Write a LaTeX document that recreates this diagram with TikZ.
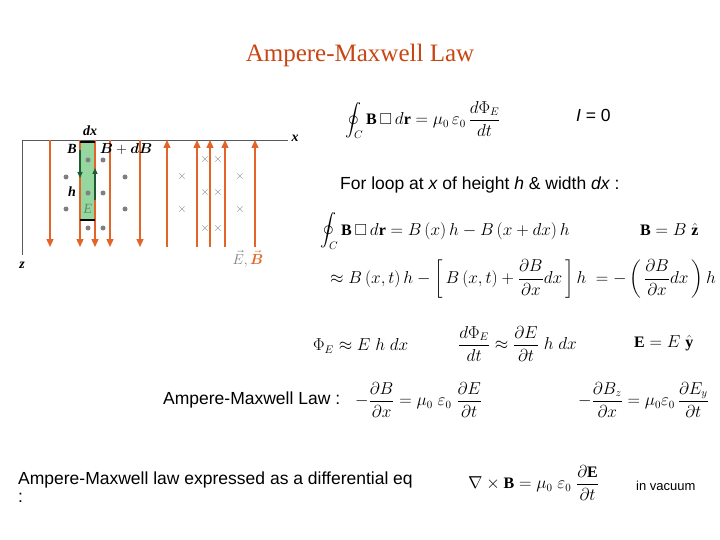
\documentclass[tikz,border=0pt]{standalone}
\usepackage{fontspec}
\usepackage{amsmath,amssymb}
\setmainfont{Liberation Serif}
\newfontfamily\arial{Liberation Sans}
\usetikzlibrary{arrows.meta}
\definecolor{org}{RGB}{226,100,40}
\definecolor{ttl}{RGB}{200,70,20}
\definecolor{grn}{RGB}{150,215,160}
\definecolor{dgrn}{RGB}{30,90,50}
\newcommand\fs[1]{\fontsize{#1}{#1}\selectfont}
\tikzset{fld/.style={org,line width=1.3pt,-{Triangle[length=8pt,width=7pt]}},
 dt/.style={circle,fill=gray,inner sep=0pt,minimum size=5pt},
 cr/.style={text=gray,inner sep=0pt,font=\fs{13}},
 eq/.style={anchor=west,inner sep=0pt,font=\fs{16}},
 lb/.style={font=\fs{14}},
 sf/.style={anchor=west,inner sep=0pt,font=\arial\fs{17.5}}}
\begin{document}
\begin{tikzpicture}[x=1pt,y=-1pt]
\useasboundingbox[fill=white] (0,0) rectangle (720,540);
\node (title) at (360,55) {\color{ttl}\fs{25}Ampere-Maxwell Law};
% diagram
\fill[grn] (80,142) rectangle (95,220);
\draw[gray!70!black,line width=0.8pt] (22,140) coordinate (o) -- (288,140) coordinate (xe);
\draw[gray!70!black,line width=0.8pt] (o) -- (22,255) coordinate (ze);
\node[lb] (xl) at (295,138) {\bfseries\itshape x};
\node[lb] (zl) at (22,265) {\bfseries\itshape z};
\foreach \i/\x in {a/50,b/80,c/95,d/110,e/140}{
 \coordinate (dt\i) at (\x,140); \coordinate (db\i) at (\x,247);
 \draw[fld] (dt\i) -- (db\i);}
\foreach \i/\x in {a/167,b/197,c/210,d/225,e/255}{
 \coordinate (ut\i) at (\x,140); \coordinate (ub\i) at (\x,247);
 \draw[fld] (ub\i) -- (ut\i);}
\draw[black,line width=1.8pt] (80,142) -- (95,142);
\draw[black,line width=1.8pt] (80,220) -- (95,220);
\draw[dgrn,line width=1.2pt,-{Triangle[length=6pt,width=5pt]}] (80,150) -- (80,178);
\draw[dgrn,line width=1.2pt,-{Triangle[length=6pt,width=5pt]}] (95,200) -- (95,168);
\foreach \p [count=\k] in {(88,160),(103,160),(66,177),(125,177),(88,193),(103,193),(66,209),(125,209),(88,228),(103,228)}
 \node[dt] (dot\k) at \p {};
\foreach \p [count=\k] in {(205,160),(218,160),(182,177),(240,177),(205,193),(218,193),(182,209),(240,209),(205,228),(218,228)}
 \node[cr] (x\k) at \p {$\times$};
\node[lb] (ldx) at (90,131) {\bfseries\itshape dx};
\node[lb] (lB) at (72,149) {\bfseries\itshape B};
\node[lb] (lBdB) at (126,149) {$\boldsymbol{B}+\boldsymbol{dB}$};
\node[lb] (lh) at (72,192) {\bfseries\itshape h};
\node[lb] (lE) at (88,209) {\color{dgrn!70}\itshape E};
\node[lb,inner sep=0pt] (lEB) at (248,259) {$\color{gray}\vec{E},\color{org}\vec{\boldsymbol{B}}$};
% equations
\node[eq] (e1) at (345,120) {$\displaystyle\oint_C \mathbf{B}\,\square\, d\mathbf{r}=\mu_0\,\varepsilon_0\,\frac{d\Phi_E}{dt}$};
\node[sf] (i0) at (576,115) {\itshape I\upshape\ = 0};
\node[sf] (loop) at (340,185) {For loop at \itshape x\upshape\ of height \itshape h\upshape\ \& width \itshape dx\upshape\ :};
\node[eq] (e2) at (320,231) {$\displaystyle\oint_C \mathbf{B}\,\square\, d\mathbf{r}=B\left(x\right)h-B\left(x+dx\right)h$};
\node[eq] (e3) at (640,230) {$\mathbf{B}=B\;\hat{\mathbf{z}}$};
\node[eq] (e4) at (330,279) {$\displaystyle\approx B\left(x,t\right)h-\left[\,B\left(x,t\right)+\frac{\partial B}{\partial x}dx\,\right]h\;=-\left(\,\frac{\partial B}{\partial x}dx\,\right)h$};
\node[eq] (e5) at (313,346) {$\Phi_E\approx E\;h\;dx$};
\node[eq] (e6) at (458,344) {$\displaystyle\frac{d\Phi_E}{dt}\approx\frac{\partial E}{\partial t}\;h\;dx$};
\node[eq] (e7) at (634,343) {$\mathbf{E}=E\;\hat{\mathbf{y}}$};
\node[sf] (aml) at (163,400) {Ampere-Maxwell Law :};
\node[eq] (e8) at (355,400) {$\displaystyle-\frac{\partial B}{\partial x}=\mu_0\;\varepsilon_0\;\frac{\partial E}{\partial t}$};
\node[eq] (e9) at (578,400) {$\displaystyle-\frac{\partial B_z}{\partial x}=\mu_0\varepsilon_0\,\frac{\partial E_y}{\partial t}$};
\node[sf,anchor=north west] (dif) at (18,472) {\begin{tabular}{@{}l@{}}Ampere-Maxwell law expressed as a differential eq\\:\end{tabular}};
\node[eq] (e10) at (468,483) {$\displaystyle\nabla\times\mathbf{B}=\mu_0\;\varepsilon_0\;\frac{\partial \mathbf{E}}{\partial t}$};
\node[sf,font=\arial\fs{13}] (vac) at (636,486) {in vacuum};
\end{tikzpicture}
\end{document}
